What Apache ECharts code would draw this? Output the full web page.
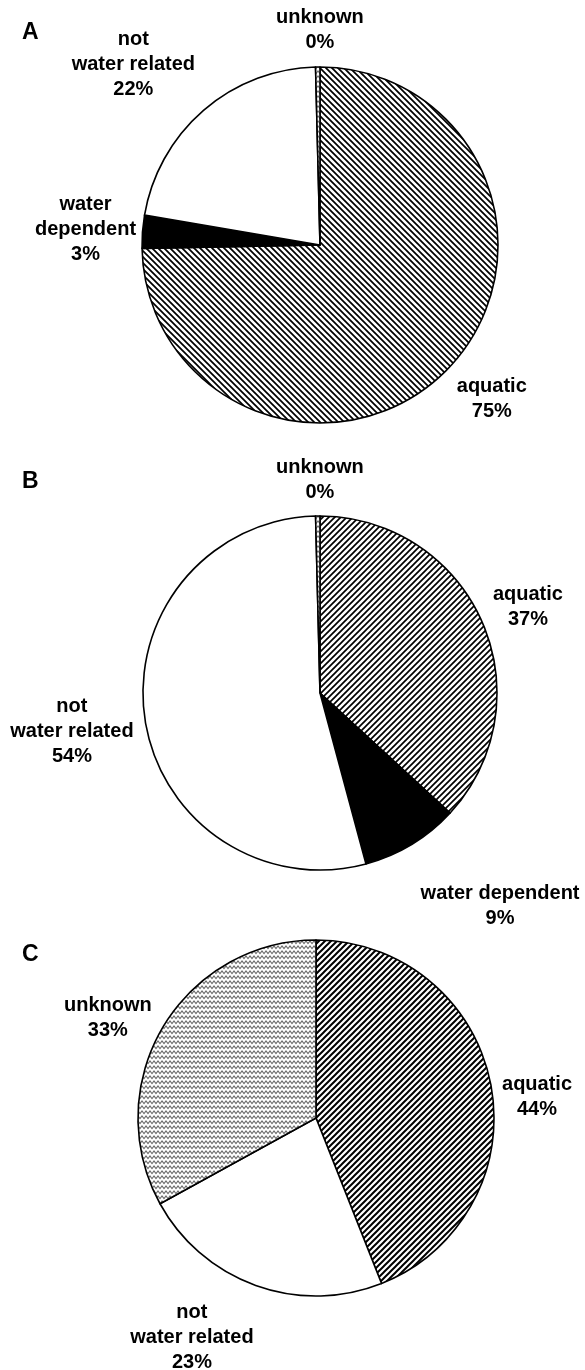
<!DOCTYPE html>
<html>
<head>
<meta charset="utf-8">
<script src="https://cdn.jsdelivr.net/npm/echarts@6/dist/echarts.min.js"></script>
<style>
  html, body { margin: 0; padding: 0; background: #fff; }
  #chart { width: 585px; height: 1370px; }
</style>
</head>
<body>
<div id="chart"></div>
<script>
// Habitat categories, in clockwise order from 12 o'clock
const categories = ['aquatic', 'water dependent', 'not water related', 'unknown'];

// Shares per panel (null = category absent from that panel)
const sharesA = [75, 3, 22, 0.4];
const sharesB = [37, 9, 54, 0.4];
const sharesC = [44, null, 23, 33];

// Text shown for each category, per panel
const labelTextA = ['aquatic', 'water\ndependent', 'not\nwater related', 'unknown'];
const labelTextB = ['aquatic', 'water dependent', 'not\nwater related', 'unknown'];
const labelTextC = ['aquatic', 'water dependent', 'not\nwater related', 'unknown'];

const panelLetters = ['A', 'B', 'C'];

// ---- fill patterns -------------------------------------------------------
function hatch(dir, size, width) {
  const c = document.createElement('canvas');
  c.width = size; c.height = size;
  const g = c.getContext('2d');
  g.fillStyle = '#fff'; g.fillRect(0, 0, size, size);
  g.strokeStyle = '#000'; g.lineWidth = width; g.lineCap = 'square';
  g.beginPath();
  if (dir === 'up') {            // lower-left to upper-right
    g.moveTo(-1, size + 1); g.lineTo(size + 1, -1);
    g.moveTo(-1, 1); g.lineTo(1, -1);
    g.moveTo(size - 1, size + 1); g.lineTo(size + 1, size - 1);
  } else {                       // upper-left to lower-right
    g.moveTo(-1, -1); g.lineTo(size + 1, size + 1);
    g.moveTo(size - 1, -1); g.lineTo(size + 1, 1);
    g.moveTo(-1, size - 1); g.lineTo(1, size + 1);
  }
  g.stroke();
  return { image: c, repeat: 'repeat' };
}

function waves() {
  const c = document.createElement('canvas');
  c.width = 8; c.height = 5;
  const g = c.getContext('2d');
  g.fillStyle = '#fff'; g.fillRect(0, 0, 8, 5);
  g.strokeStyle = '#6a6a6a'; g.lineWidth = 1.1;
  g.beginPath();
  g.moveTo(-2, 1); g.lineTo(0, 3.6); g.lineTo(2, 1); g.lineTo(4, 3.6);
  g.lineTo(6, 1); g.lineTo(8, 3.6); g.lineTo(10, 1);
  g.stroke();
  return { image: c, repeat: 'repeat' };
}

const grayWaves = waves();
const panelFills = [
  [hatch('down', 6, 1.7), '#000', '#fff', grayWaves],
  [hatch('up', 6, 1.7), '#000', '#fff', grayWaves],
  [hatch('up', 6, 2.0), '#000', '#fff', grayWaves]
];

// ---- label placement: radial distance from centre and angular nudge (deg)
const labelPlaceA = [[231, -2.5], [235, -0.5], [260, -5], [215, 0.7]];
const labelPlaceB = [[225, 1.2], [279, -9], [251, -0.5], [213, 0.7]];
const labelPlaceC = [[222, 5.4], [0, 0], [252, 9.7], [231, -4.9]];

const panels = [
  { shares: sharesA, text: labelTextA, place: labelPlaceA, center: [320, 245], radius: 178 },
  { shares: sharesB, text: labelTextB, place: labelPlaceB, center: [320, 693], radius: 177 },
  { shares: sharesC, text: labelTextC, place: labelPlaceC, center: [316, 1118], radius: 178 }
];

const chart = echarts.init(document.getElementById('chart'), null, { renderer: 'canvas' });
const FONT = '"Liberation Sans", Arial, Helvetica, sans-serif';

const series = panels.map((p, pi) => {
  const data = [];
  categories.forEach((cat, ci) => {
    if (p.shares[ci] == null) return;
    data.push({
      name: cat,
      value: p.shares[ci],
      catIndex: ci,
      itemStyle: { color: panelFills[pi][ci] }
    });
  });
  return {
    type: 'pie',
    center: p.center,
    radius: p.radius,
    startAngle: 90,
    clockwise: true,
    avoidLabelOverlap: false,
    percentPrecision: 0,
    silent: true,
    data: data,
    itemStyle: { borderColor: '#000', borderWidth: 1.6 },
    label: {
      show: true,
      position: 'outside',
      color: '#000',
      fontFamily: FONT,
      fontWeight: 'bold',
      fontSize: 20,
      lineHeight: 25,
      align: 'center',
      formatter: (prm) => p.text[prm.data.catIndex] + '\n' + prm.percent + '%'
    },
    labelLine: { show: false },
    labelLayout: (prm) => {
      const d = chart.getModel().getSeriesByIndex(prm.seriesIndex).getData();
      const lay = d.getItemLayout(prm.dataIndex);
      const ci = d.getRawDataItem(prm.dataIndex).catIndex;
      const pl = p.place[ci];
      const mid = (lay.startAngle + lay.endAngle) / 2 + pl[1] * Math.PI / 180;
      return {
        x: lay.cx + Math.cos(mid) * pl[0],
        y: lay.cy + Math.sin(mid) * pl[0],
        align: 'center',
        verticalAlign: 'middle'
      };
    }
  };
});

chart.setOption({
  animation: false,
  backgroundColor: '#fff',
  title: panelLetters.map((t, i) => ({
    text: t,
    left: 22,
    top: [21, 470, 943][i],
    padding: 0,
    textStyle: { fontFamily: FONT, fontWeight: 'bold', fontSize: 23, color: '#000' }
  })),
  series: series
});
</script>
</body>
</html>
